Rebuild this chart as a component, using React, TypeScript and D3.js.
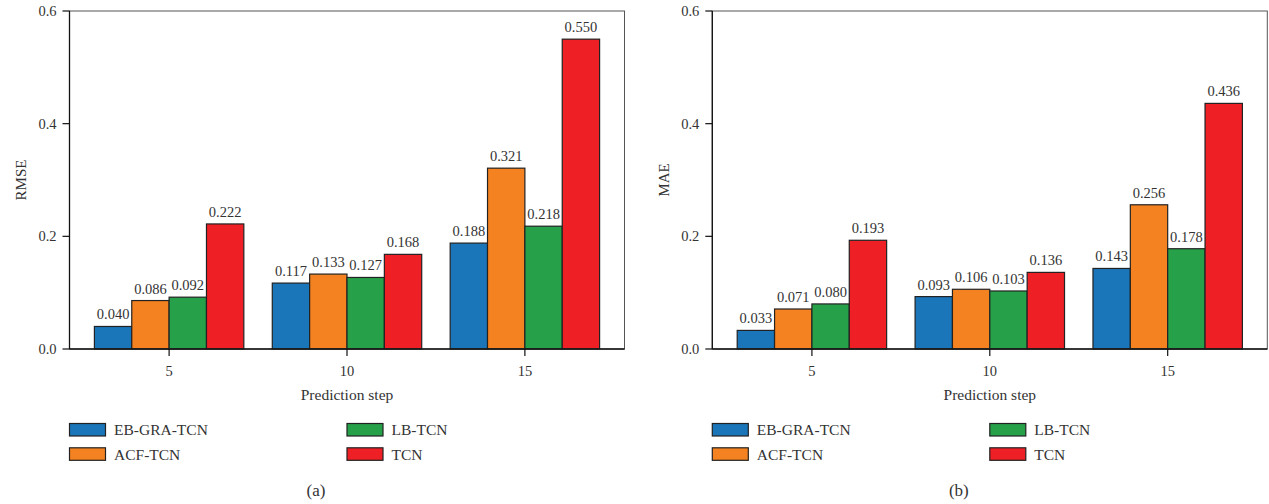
import React from "react";
import * as d3 from "d3";

const steps = ["5", "10", "15"];
const seriesNames = ["EB-GRA-TCN", "ACF-TCN", "LB-TCN", "TCN"];
const seriesColors = ["#1a76b9", "#f58220", "#27a149", "#ee1f25"];

const rmseEB = [0.040, 0.117, 0.188];
const rmseACF = [0.086, 0.133, 0.321];
const rmseLB = [0.092, 0.127, 0.218];
const rmseTCN = [0.222, 0.168, 0.550];

const maeEB = [0.033, 0.093, 0.143];
const maeACF = [0.071, 0.106, 0.256];
const maeLB = [0.080, 0.103, 0.178];
const maeTCN = [0.193, 0.136, 0.436];

const yTicks = [0.0, 0.2, 0.4, 0.6];

const FONT = "'Liberation Serif', 'Times New Roman', serif";
const TEXT = "#333";

type PanelProps = {
  x0: number;
  yLabel: string;
  data: number[][];
  tag: string;
};

function Panel({ x0, yLabel, data, tag }: PanelProps) {
  const left = x0;
  const right = x0 + 555;
  const top = 11;
  const bottom = 349;
  const x = d3.scaleLinear().domain([-0.56, 2.56]).range([left, right]);
  const y = d3.scaleLinear().domain([0, 0.6]).range([bottom, top]);
  const bw = 0.21;
  const bwPx = x(bw) - x(0);

  return (
    <g>
      {/* bars */}
      {data.map((vals, j) =>
        vals.map((v, i) => {
          const cx = x(i + (j - 1.5) * bw);
          return (
            <g key={`${j}-${i}`}>
              <rect
                x={cx - bwPx / 2}
                y={y(v)}
                width={bwPx}
                height={y(0) - y(v)}
                fill={seriesColors[j]}
                stroke="#222"
                strokeWidth={1.2}
              />
              <text
                x={cx}
                y={y(v) - 7}
                textAnchor="middle"
                fontSize={14.5}
                fontFamily={FONT}
                fill={TEXT}
              >
                {v.toFixed(3)}
              </text>
            </g>
          );
        })
      )}
      {/* frame */}
      <rect
        x={left}
        y={top}
        width={right - left}
        height={bottom - top}
        fill="none"
        stroke="#555"
        strokeWidth={1}
      />
      <line x1={left} x2={left} y1={top} y2={bottom} stroke="#111" strokeWidth={1.3} />
      <line x1={left} x2={right} y1={bottom} y2={bottom} stroke="#111" strokeWidth={1.3} />
      {/* y ticks */}
      {yTicks.map((t) => (
        <g key={t}>
          <line x1={left - 7} x2={left} y1={y(t)} y2={y(t)} stroke="#111" strokeWidth={1.2} />
          <text
            x={left - 13}
            y={y(t)}
            dy="0.35em"
            textAnchor="end"
            fontSize={14.5}
            fontFamily={FONT}
            fill={TEXT}
          >
            {t.toFixed(1)}
          </text>
        </g>
      ))}
      {/* x ticks */}
      {steps.map((s, i) => (
        <g key={s}>
          <line x1={x(i)} x2={x(i)} y1={bottom} y2={bottom + 7} stroke="#111" strokeWidth={1.2} />
          <text
            x={x(i)}
            y={bottom + 27}
            textAnchor="middle"
            fontSize={14.5}
            fontFamily={FONT}
            fill={TEXT}
          >
            {s}
          </text>
        </g>
      ))}
      {/* axis labels */}
      <text
        transform={`translate(${left - 49},${(top + bottom) / 2}) rotate(-90)`}
        textAnchor="middle"
        dy="0.35em"
        fontSize={15}
        fontFamily={FONT}
        fill={TEXT}
      >
        {yLabel}
      </text>
      <text
        x={(left + right) / 2}
        y={400}
        textAnchor="middle"
        fontSize={15.5}
        fontFamily={FONT}
        fill={TEXT}
      >
        Prediction step
      </text>
      {/* legend */}
      {seriesNames.map((name, j) => {
        const col = j === 0 || j === 1 ? 0 : 1;
        const row = j === 0 || j === 2 ? 0 : 1;
        const lx = left + 0 + col * 277.5;
        const ly = 423.5 + row * 24.3;
        return (
          <g key={name}>
            <rect
              x={lx}
              y={ly}
              width={36}
              height={12.5}
              fill={seriesColors[j]}
              stroke="#222"
              strokeWidth={1.2}
            />
            <text
              x={lx + 44.5}
              y={ly + 11.8}
              fontSize={15.5}
              fontFamily={FONT}
              fill={TEXT}
            >
              {name}
            </text>
          </g>
        );
      })}
      <text
        x={left + 246.5}
        y={496}
        textAnchor="middle"
        fontSize={17}
        fontFamily={FONT}
        fill={TEXT}
      >
        {tag}
      </text>
    </g>
  );
}

export default function App() {
  return (
    <svg
      width={1269}
      height={504}
      style={{ position: "absolute", left: 0, top: 0, display: "block", background: "#fff" }}
    >
      <rect x={0} y={0} width={1269} height={504} fill="#fff" />
      <Panel x0={69.5} yLabel="RMSE" data={[rmseEB, rmseACF, rmseLB, rmseTCN]} tag="(a)" />
      <Panel x0={712.3} yLabel="MAE" data={[maeEB, maeACF, maeLB, maeTCN]} tag="(b)" />
    </svg>
  );
}
